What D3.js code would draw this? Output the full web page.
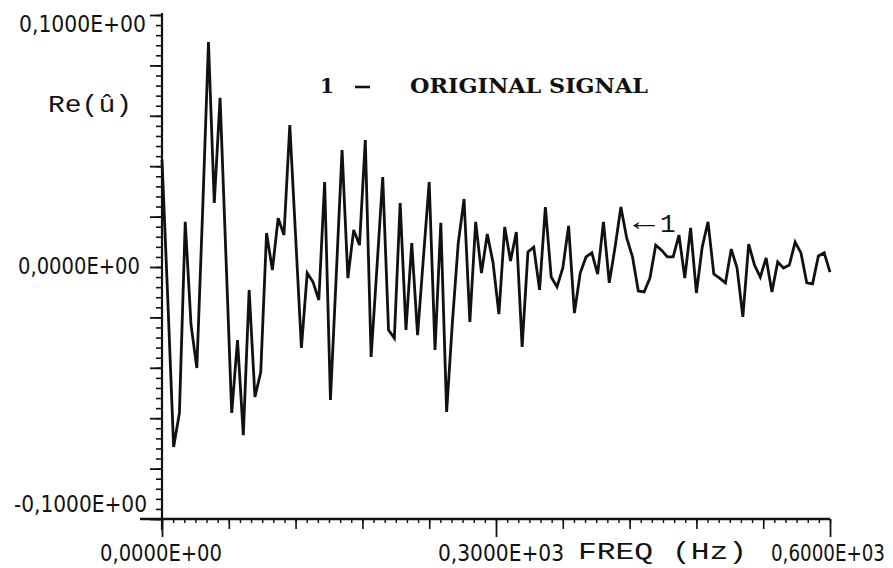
<!DOCTYPE html>
<html>
<head>
<meta charset="UTF-8">
<title>Original signal</title>
<script src="https://d3js.org/d3.v7.min.js"></script>
<style>
  body { margin: 0; background: #fff; }
  svg { display: block; }
  .num { font-family: "DejaVu Sans", sans-serif; font-stretch: condensed; font-size: 23px; fill: #111; }
  .mono { font-family: "Liberation Mono", "DejaVu Sans Mono", monospace; fill: #111; }
  .title { font-family: "DejaVu Serif", serif; font-weight: bold; font-size: 20px; fill: #111; }
  .axis path, .axis line { stroke: #111; }
</style>
</head>
<body>
<div id="chart"></div>
<script>
// Re(u), 116 samples from 0 to 600 Hz
const reU = [
  0.0425, -0.0131, -0.0714, -0.0579, 0.0179, -0.0230, -0.0401, 0.0226, 0.0893, 0.0254,
  0.0671, 0.0048, -0.0579, -0.0290, -0.0667, -0.0091, -0.0516, -0.0417, 0.0135, -0.0012,
  0.0194, 0.0127, 0.0563, 0.0123, -0.0321, -0.0024, -0.0060, -0.0131, 0.0337, -0.0528,
  -0.0032, 0.0464, -0.0044, 0.0147, 0.0087, 0.0504, -0.0357, -0.0004, 0.0357, -0.0250,
  -0.0282, 0.0254, -0.0250, 0.0095, -0.0270, 0.0036, 0.0337, -0.0329, 0.0175, -0.0575,
  -0.0218, 0.0095, 0.0270, -0.0218, 0.0179, -0.0024, 0.0131, 0.0016, -0.0187, 0.0159,
  0.0024, 0.0139, -0.0317, 0.0060, 0.0079, -0.0091, 0.0238, -0.0040, -0.0079, -0.0004,
  0.0163, -0.0183, -0.0024, 0.0040, 0.0056, -0.0028, 0.0179, -0.0063, 0.0079, 0.0238,
  0.0115, 0.0040, -0.0095, -0.0099, -0.0044, 0.0087, 0.0067, 0.0040, 0.0040, 0.0127,
  -0.0044, 0.0155, -0.0103, 0.0079, 0.0179, -0.0028, -0.0044, -0.0063, 0.0071, -0.0004,
  -0.0198, 0.0091, 0.0008, -0.0040, 0.0036, -0.0099, 0.0020, -0.0004, 0.0008, 0.0099,
  0.0056, -0.0063, -0.0067, 0.0044, 0.0056, -0.0020
];
const freqMax = 600;
const freq = reU.map((d, i) => i * freqMax / (reU.length - 1));

const yLabelValues = [0.1, 0, -0.1];
const xLabelValues = [0, 300, 600];
const xMidTicks = [60, 120, 180, 240, 360, 420, 480, 540];

const width = 893, height = 568;
const x = d3.scaleLinear().domain([0, 600]).range([162, 830]);
const y = d3.scaleLinear().domain([-0.1, 0.1]).range([519, 15]);

// 0.1 -> "0,1000E+00"
function fmtE(v) {
  if (v === 0) return "0,0000E+00";
  const e = Math.floor(Math.log10(Math.abs(v))) + 1;
  const m = Math.abs(v) / Math.pow(10, e);
  const digits = Math.round(m * 10000).toString().padStart(4, "0");
  return (v < 0 ? "-" : "") + "0," + digits + "E" + (e < 0 ? "-" : "+") + String(Math.abs(e)).padStart(2, "0");
}

const svg = d3.select("#chart").append("svg")
  .attr("width", width).attr("height", height);

// y axis: minor every 0.004, major every 0.02
const yMinor = d3.range(-0.1, 0.1001, 0.004);
const yMajor = d3.range(-0.1, 0.1001, 0.02);
svg.append("g").attr("class", "axis")
  .attr("transform", `translate(${x(0)},0)`)
  .call(d3.axisLeft(y).tickValues(yMinor).tickSize(6).tickFormat("").tickSizeOuter(0))
  .call(g => g.selectAll("line").attr("stroke-width", 1.6))
  .call(g => g.select(".domain").remove());
svg.append("g").attr("class", "axis")
  .attr("transform", `translate(${x(0)},0)`)
  .call(d3.axisLeft(y).tickValues(yMajor).tickSize(12).tickFormat("").tickSizeOuter(0))
  .call(g => g.selectAll("line").attr("stroke-width", 1.8))
  .call(g => g.select(".domain").remove());
svg.append("line")
  .attr("x1", x(0)).attr("x2", x(0))
  .attr("y1", y(0.1) - 2).attr("y2", y(-0.1) + 11)
  .attr("stroke", "#111").attr("stroke-width", 2.2);

// x axis: dots every 10 Hz, ticks every 60, long ones at labels
svg.append("g").attr("class", "axis")
  .attr("transform", `translate(0,${y(-0.1)})`)
  .call(d3.axisBottom(x).tickValues(d3.range(0, 601, 10)).tickSize(4).tickFormat("").tickSizeOuter(0))
  .call(g => g.selectAll("line").attr("stroke-width", 1.4))
  .call(g => g.select(".domain").remove());
svg.append("g").attr("class", "axis")
  .attr("transform", `translate(0,${y(-0.1)})`)
  .call(d3.axisBottom(x).tickValues(xMidTicks).tickSize(10).tickFormat("").tickSizeOuter(0))
  .call(g => g.selectAll("line").attr("stroke-width", 1.6))
  .call(g => g.select(".domain").remove());
svg.append("g").attr("class", "axis")
  .attr("transform", `translate(0,${y(-0.1)})`)
  .call(d3.axisBottom(x).tickValues(xLabelValues).tickSize(18).tickFormat("").tickSizeOuter(0))
  .call(g => g.selectAll("line").attr("stroke-width", 1.8))
  .call(g => g.select(".domain").remove());
svg.append("line")
  .attr("x1", x(0) - 22).attr("x2", x(600))
  .attr("y1", y(-0.1)).attr("y2", y(-0.1))
  .attr("stroke", "#111").attr("stroke-width", 2.4);

// y labels
const yLab = [
  { dx: -16, dy: 17, len: 127 },
  { dx: -22, dy: 7, len: 122 },
  { dx: -15, dy: -7, len: 133 }
];
svg.selectAll("text.ylab").data(yLabelValues).enter().append("text")
  .attr("class", "num ylab")
  .attr("x", (d, i) => x(0) + yLab[i].dx)
  .attr("y", (d, i) => y(d) + yLab[i].dy)
  .attr("text-anchor", "end")
  .attr("textLength", (d, i) => yLab[i].len)
  .attr("lengthAdjust", "spacingAndGlyphs")
  .text(fmtE);

// x labels
const xLab = [
  { anchor: "middle", dx: -1, len: 122 },
  { anchor: "middle", dx: 5, len: 126 },
  { anchor: "end", dx: 55, len: 114 }
];
svg.selectAll("text.xlab").data(xLabelValues).enter().append("text")
  .attr("class", "num xlab")
  .attr("x", (d, i) => x(d) + xLab[i].dx)
  .attr("y", 561)
  .attr("text-anchor", (d, i) => xLab[i].anchor)
  .attr("textLength", (d, i) => xLab[i].len)
  .attr("lengthAdjust", "spacingAndGlyphs")
  .text(fmtE);

svg.append("text").attr("class", "mono")
  .attr("x", 578).attr("y", 559)
  .attr("font-size", 23)
  .attr("textLength", 169).attr("lengthAdjust", "spacingAndGlyphs")
  .text("FREQ (Hz)");

svg.append("text").attr("class", "mono")
  .attr("x", 48).attr("y", 112)
  .attr("font-size", 23)
  .attr("textLength", 84).attr("lengthAdjust", "spacingAndGlyphs")
  .text("Re(û)");

// title
svg.append("text").attr("class", "title").attr("x", 320).attr("y", 93).text("1");
svg.append("line").attr("x1", 355).attr("x2", 370).attr("y1", 87).attr("y2", 87)
  .attr("stroke", "#111").attr("stroke-width", 2.6);
svg.append("text").attr("class", "title")
  .attr("x", 410).attr("y", 93)
  .attr("textLength", 238).attr("lengthAdjust", "spacingAndGlyphs")
  .text("ORIGINAL SIGNAL");

// curve
const line = d3.line()
  .x((d, i) => x(freq[i]))
  .y(d => y(d));
svg.append("path")
  .datum(reU)
  .attr("d", line)
  .attr("fill", "none")
  .attr("stroke", "#111")
  .attr("stroke-width", 2.8)
  .attr("stroke-linejoin", "miter");

// curve marker "<- 1"
svg.append("text").attr("class", "mono")
  .attr("x", 633).attr("y", 230).attr("font-size", 26)
  .attr("textLength", 22).attr("lengthAdjust", "spacingAndGlyphs")
  .text("←");
svg.append("text").attr("class", "mono")
  .attr("x", 660).attr("y", 232).attr("font-size", 26).text("1");
</script>
</body>
</html>
